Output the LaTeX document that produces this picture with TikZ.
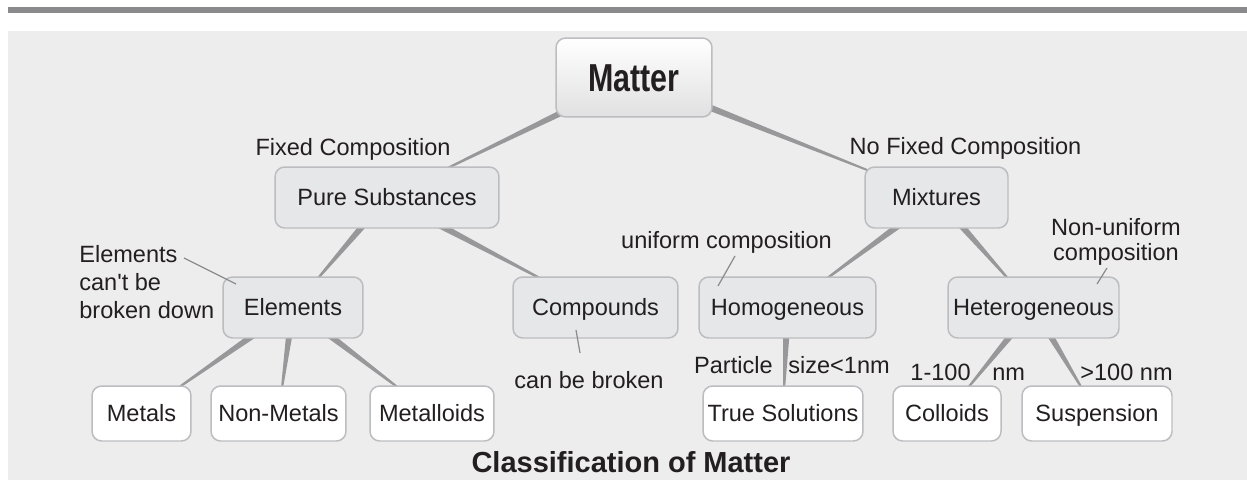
\documentclass[tikz,border=0pt]{standalone}
\usepackage{fontspec}
\setmainfont{Liberation Sans}
\newfontfamily\narrowfont[FakeStretch=0.78]{Liberation Sans}
\usetikzlibrary{calc,backgrounds}

\definecolor{panelgray}{HTML}{EDEDED}
\definecolor{bargray}{HTML}{8A8A8C}
\definecolor{boxgray}{HTML}{E6E7E8}
\definecolor{rimgray}{HTML}{BCBDC0}
\definecolor{linkgray}{HTML}{98989B}
\definecolor{leadgray}{HTML}{8C8C8E}
\definecolor{inkgray}{HTML}{231F20}

\tikzset{
 concept/.style={draw=rimgray,line width=0.85pt,fill=boxgray,rounded corners=5.5pt,
  minimum height=1.22cm,inner sep=0pt,text=inkgray,text height=9.6pt,text depth=0pt,
  font=\fontsize{13.4}{16}\selectfont},
 leaf/.style={concept,fill=white,minimum height=1.1cm},
 note/.style={inner sep=0pt,anchor=base,text=inkgray,font=\fontsize{13.4}{15.7}\selectfont},
 leader/.style={draw=leadgray,line width=0.7pt},
}
\newcommand{\taper}[2]{%
 \fill [linkgray] ($(#1.center)!2.4pt!90:(#2.center)$) -- ($(#1.center)!2.4pt!-90:(#2.center)$) -- (#2.center) -- cycle;%
}

\begin{document}
\begin{tikzpicture}[x=0.02cm,y=-0.02cm]
 \useasboundingbox (0,0) rectangle (1247,480);
 \begin{scope}[on background layer]
  \fill [bargray] (8,7) rectangle (1247,12.5);
  \fill [panelgray] (8,31) rectangle (1247,480);
 \end{scope}

 \node [concept,top color=white,middle color=white,bottom color=black!12,
  minimum width=3.12cm,minimum height=1.58cm,text height=15.9pt,
  font=\narrowfont\bfseries\fontsize{22.2}{26}\selectfont] (matter) at (634,77.5) {Matter};
 \node [concept,minimum width=4.48cm] (pure) at (387,197.5) {Pure Substances};
 \node [concept,minimum width=2.86cm] (mixtures) at (936.5,197.5) {Mixtures};
 \node [concept,minimum width=2.8cm] (elements) at (293,307.5) {Elements};
 \node [concept,minimum width=3.3cm] (compounds) at (595.5,307.5) {Compounds};
 \node [concept,minimum width=3.54cm] (homogeneous) at (787.5,307.5) {Homogeneous};
 \node [concept,minimum width=3.42cm] (heterogeneous) at (1033.5,307.5) {Heterogeneous};
 \node [leaf,minimum width=1.98cm] (metals) at (141.5,413.5) {Metals};
 \node [leaf,minimum width=2.7cm] (nonmetals) at (278.5,413.5) {Non-Metals};
 \node [leaf,minimum width=2.48cm] (metalloids) at (432,413.5) {Metalloids};
 \node [leaf,minimum width=3.2cm] (solutions) at (783,413.5) {True Solutions};
 \node [leaf,minimum width=2.16cm] (colloids) at (947,413.5) {Colloids};
 \node [leaf,minimum width=3cm] (suspension) at (1097,413.5) {Suspension};

 \begin{scope}[on background layer]
  \taper{matter}{pure}
  \taper{matter}{mixtures}
  \taper{pure}{elements}
  \taper{pure}{compounds}
  \taper{mixtures}{homogeneous}
  \taper{mixtures}{heterogeneous}
  \taper{elements}{metals}
  \taper{elements}{nonmetals}
  \taper{elements}{metalloids}
  \taper{homogeneous}{solutions}
  \taper{heterogeneous}{colloids}
  \taper{heterogeneous}{suspension}
 \end{scope}

 \node [note] (fixed) at (353,155.5) {Fixed Composition};
 \node [note] (nofixed) at (965.5,154.5) {No Fixed Composition};
 \node [note] (uniform) at (726.5,248) {uniform composition};
 \node [note,align=center,font=\fontsize{13.4}{14.2}\selectfont] (nonuniform) at (1116,260) {Non-uniform\\composition};
 \node [note,align=left,anchor=base west] (elnote) at (79,318) {Elements\\can\textquotesingle t be\\broken down};
 \node [note] (broken) at (589,388) {can be broken};
 \node [note,anchor=base east] (particle) at (773,373) {Particle};
 \node [note,anchor=base west] (size) at (788,373) {size<1nm};
 \node [note,anchor=base east] (range) at (971,380) {1-100};
 \node [note,anchor=base west] (rangeunit) at (992,380) {nm};
 \node [note] (coarse) at (1126.5,380) {>100 nm};
 \node [note,font=\bfseries\fontsize{16.5}{20}\selectfont] (caption) at (631,472) {Classification of Matter};

 \coordinate (elnote-tip) at (184,258);
 \coordinate (nonuniform-tip) at (1107,268);
 \draw [leader] (elnote-tip) -- ([shift={(-57,-23.5)}]elements.center);
 \draw [leader] ([shift={(-19.5,22.5)}]compounds.center) -- ([shift={(-9,-35)}]broken.base);
 \draw [leader] ([shift={(8.5,8)}]uniform.base) -- ([shift={(-69.5,-21.5)}]homogeneous.center);
 \draw [leader] (nonuniform-tip) -- ([shift={(63.5,-23.5)}]heterogeneous.center);
\end{tikzpicture}
\end{document}
